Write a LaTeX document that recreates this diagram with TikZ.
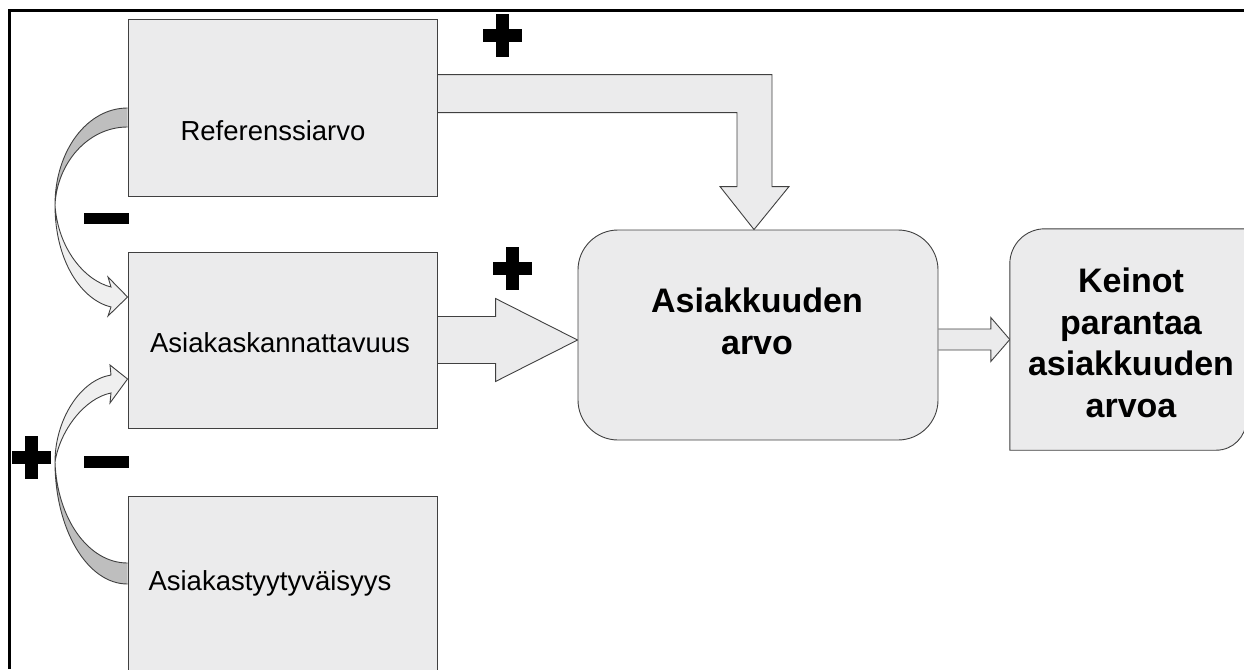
\documentclass[tikz,border=0pt]{standalone}
\usepackage{fontspec}
\setmainfont{Liberation Sans}
\usetikzlibrary{calc,backgrounds}
\definecolor{boxfill}{HTML}{EBEBEC}
\definecolor{curvedark}{HTML}{BEBEBE}
\definecolor{curvelight}{HTML}{EFEFEF}
\definecolor{edge}{HTML}{404040}
\begin{document}
\begin{tikzpicture}[x=1pt,y=-1pt,
  outline/.style={draw=edge, line width=0.9pt, line join=miter},
  box/.style={outline, fill=boxfill, minimum width=309pt, inner sep=0pt},
  plain/.style={font=\fontsize{27.5}{33}\selectfont, inner sep=0pt, anchor=base},
  heavy/.style={font=\fontsize{34}{41.5}\selectfont\bfseries, align=center, inner sep=0pt},
  plussign/.pic={\fill (-19.5,-6.5) rectangle (19.5,6.5);
                 \fill (-6.5,-21.5) rectangle (6.5,21.5);},
  minussign/.pic={\fill (-22.5,-5.75) rectangle (22.5,5.75);}]
\useasboundingbox (0,0) rectangle (1244,669);
\clip (0,0) rectangle (1244,669);

% frame lines
\draw[line width=3pt] (8,11) -- (1244,11);
\draw[line width=2.6pt] (9.5,10) -- (9.5,669);

% boxes
\node[box, minimum height=177pt] (ref)  at (282.5,107.5) {};
\node[box, minimum height=176pt] (kann) at (282.5,340) {};
\node[box, minimum height=200pt] (tyyt) at (282.5,596) {};
\node[box, rounded corners=40pt, minimum width=360pt, minimum height=210pt] (arvo) at (758,335) {};
\node[minimum width=236pt, minimum height=221pt, inner sep=0pt] (keinot) at (1128,339.5) {};
\draw[outline, fill=boxfill]
  (keinot.south west) -- ($(keinot.north west)+(0,35)$)
  .. controls ($(keinot.north west)+(0,15.7)$) and ($(keinot.north west)+(15.7,0)$) .. ($(keinot.north west)+(35,0)$)
  -- (keinot.north east) -- ($(keinot.south east)+(0,-30)$)
  .. controls ($(keinot.south east)+(0,-13.4)$) and ($(keinot.south east)+(-13.4,0)$) .. ($(keinot.south east)+(-30,0)$)
  -- cycle;

% texts
\node[plain] (ref-t)  at (273,140) {Referenssiarvo};
\node[plain] (kann-t) at (280,352) {Asiakaskannattavuus};
\node[plain] (tyyt-t) at (270,590) {Asiakastyytyväisyys};
\node[heavy] (arvo-t) at (757,321.5) {Asiakkuuden\\arvo};
\node[heavy] (keinot-t) at (1131,343) {Keinot\\parantaa\\asiakkuuden\\arvoa};

% block arrows
\coordinate (tipA) at ($(arvo.north)+(-4,0)$);
\coordinate (tipB) at (arvo.west |- kann.east);
\coordinate (tipC) at (keinot.west);
\begin{scope}[on background layer]
  \begin{scope}[shift={(tipA)}]
    \draw[outline, fill=boxfill] (ref.east |- 0,-155) -- (18,-155) -- (18,-43) -- (35,-43)
      -- (0,0) -- (-34,-43) -- (-17,-43) -- (-17,-117) -- (ref.east |- 0,-117);
  \end{scope}
  \begin{scope}[shift={(tipB)}]
    \draw[outline, fill=boxfill] (kann.east |- 0,-23.5) -- (-82,-23.5) -- (-82,-41.5)
      -- (0,0) -- (-82,41.5) -- (-82,23.5) -- (kann.east |- 0,23.5);
  \end{scope}
  \begin{scope}[shift={(tipC)}]
    \draw[outline, fill=boxfill] (arvo.east |- 0,-10.5) -- (-19,-10.5) -- (-19,-22)
      -- (0,0) -- (-19,22) -- (-19,10.5) -- (arvo.east |- 0,10.5);
  \end{scope}

  % curved arrow from Referenssiarvo down to Asiakaskannattavuus
  \draw[outline, fill=curvedark] (ref.west |- 0,108)
    .. controls (87,108) and (55,151) .. (55,205)
    .. controls (57,163) and (88,127) .. (ref.west |- 0,127);
  \draw[outline, fill=curvelight] (55,205)
    .. controls (55,262) and (82,300) .. (111,307) -- (108,316) -- (kann.west |- 0,297)
    -- (108,277) -- (111,287) .. controls (86,281) and (58,250) .. cycle;

  % curved arrow from Asiakastyytyväisyys up to Asiakaskannattavuus
  \draw[outline, fill=curvedark] (tyyt.west |- 0,584)
    .. controls (87,584) and (55,529) .. (55,462)
    .. controls (57,518) and (88,563) .. (tyyt.west |- 0,563);
  \draw[outline, fill=curvelight] (55,462)
    .. controls (55,420) and (80,380) .. (111,375) -- (110,365) -- (kann.west |- 0,379)
    -- (110,403) -- (111,393) .. controls (85,398) and (60,430) .. cycle;
\end{scope}

% signs
\pic (plusA) at (502.5,35.5) {plussign};
\pic (plusB) at (512.5,268) {plussign};
\pic (plusC) at (31,457) {plussign};
\pic (minusA) at (106.5,218.5) {minussign};
\pic (minusB) at (106.5,462) {minussign};
\end{tikzpicture}
\end{document}
